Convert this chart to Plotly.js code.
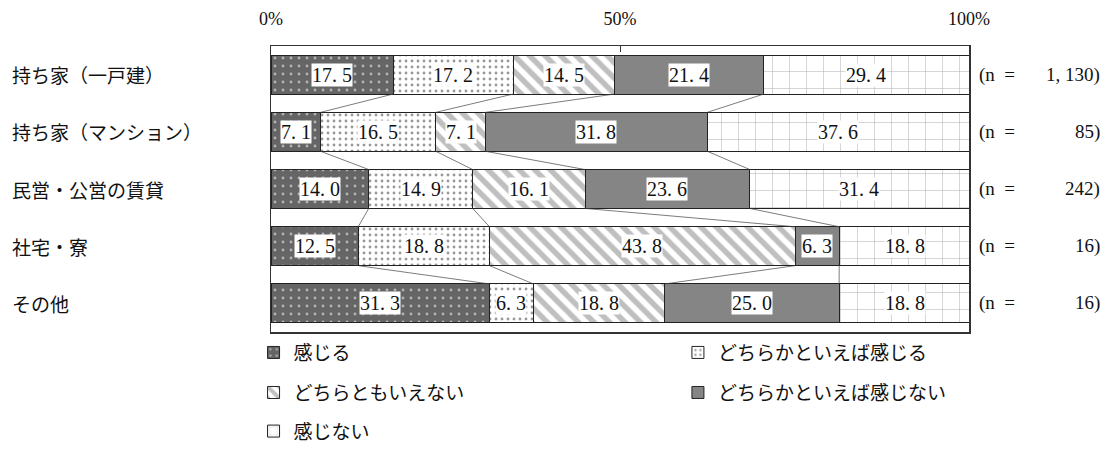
<!DOCTYPE html>
<html>
<head>
<meta charset="utf-8">
<script src="https://cdn.plot.ly/plotly-3.0.1.min.js"></script>
<style>
  body { margin: 0; background: #fff; }
  #plot { width: 1111px; height: 462px; }
</style>
</head>
<body>
<div id="plot"></div>
<script>
// housing types (rows, top to bottom)
var categories = ['持ち家（一戸建）', '持ち家（マンション）', '民営・公営の賃貸', '社宅・寮', 'その他'];
var nCounts = ['1, 130', '85', '242', '16', '16'];

// answer series (%)
var seriesNames = ['感じる', 'どちらかといえば感じる', 'どちらともいえない', 'どちらかといえば感じない', '感じない'];
var kanjiru      = [17.5, 7.1, 14.0, 12.5, 31.3];
var dochiraKan   = [17.2, 16.5, 14.9, 18.8, 6.3];
var dochiraMo    = [14.5, 7.1, 16.1, 43.8, 18.8];
var dochiraNai   = [21.4, 31.8, 23.6, 6.3, 25.0];
var kanjinai     = [29.4, 37.6, 31.4, 18.8, 18.8];

var tickVals = [0, 50, 100];
var tickText = ['0%', '50%', '100%'];

var seriesValues = [kanjiru, dochiraKan, dochiraMo, dochiraNai, kanjinai];

var patterns = [
  {shape: '.', bgcolor: '#656565', fgcolor: '#ffffff', size: 8, solidity: 0.1, fillmode: 'overlay'},
  {shape: '.', bgcolor: '#ffffff', fgcolor: '#333333', size: 6, solidity: 0.18, fillmode: 'overlay'},
  {shape: '\\', bgcolor: '#ffffff', fgcolor: '#7f7f7f', size: 11, solidity: 0.5, fillmode: 'overlay'},
  {shape: '', bgcolor: '#858585', fgcolor: '#858585', fillmode: 'overlay'},
  {shape: '+', bgcolor: '#ffffff', fgcolor: '#5f5f5f', size: 17, solidity: 0.06, fillmode: 'overlay'}
];
var baseColors = ['#656565', '#ffffff', '#ffffff', '#858585', '#ffffff'];
var legendIds = ['legend', 'legend2', 'legend3', 'legend4', 'legend5'];

var rowIdx = categories.map(function (c, i) { return i; });
var barW = 0.68;
var serif = 'Liberation Serif, DejaVu Serif, serif';
var jp = 'Noto Sans CJK JP, sans-serif';

var traces = [];
seriesValues.forEach(function (vals, s) {
  traces.push({
    type: 'bar',
    orientation: 'h',
    name: seriesNames[s],
    x: vals,
    y: rowIdx,
    width: barW,
    legend: legendIds[s],
    marker: {
      color: baseColors[s],
      pattern: patterns[s],
      line: {color: '#222', width: 1}
    },
    hoverinfo: 'skip'
  });
});

// cumulative boundaries for connector lines and label positions
var cum = rowIdx.map(function (r) {
  var acc = [0];
  seriesValues.forEach(function (vals) { acc.push(acc[acc.length - 1] + vals[r]); });
  return acc;
});

for (var b = 1; b < seriesValues.length; b++) {
  var lx = [], ly = [];
  for (var r = 0; r < categories.length - 1; r++) {
    lx.push(cum[r][b], cum[r + 1][b], null);
    ly.push(r + barW / 2, r + 1 - barW / 2, null);
  }
  traces.push({
    type: 'scatter', mode: 'lines', x: lx, y: ly,
    line: {color: '#444', width: 0.7},
    showlegend: false, hoverinfo: 'skip', cliponaxis: false
  });
}

var annotations = [];
// value labels
seriesValues.forEach(function (vals, s) {
  vals.forEach(function (v, r) {
    annotations.push({
      x: cum[r][s] + v / 2, y: r, xref: 'x', yref: 'y',
      text: v.toFixed(1).replace('.', '. '),
      showarrow: false,
      font: {family: serif, size: 20, color: '#111'},
      bgcolor: '#ffffff', borderpad: 0
    });
  });
});
// category labels and n
categories.forEach(function (c, r) {
  annotations.push({
    x: -0.374, y: r, xref: 'paper', yref: 'y', xanchor: 'left',
    text: c, showarrow: false,
    font: {family: jp, size: 19, color: '#111'}
  });
  annotations.push({
    x: 1.0115, y: r, xref: 'paper', yref: 'y', xanchor: 'left',
    text: '(n&nbsp;&nbsp;=', showarrow: false,
    font: {family: serif, size: 19, color: '#111'}
  });
  annotations.push({
    x: 1.19, y: r, xref: 'paper', yref: 'y', xanchor: 'right',
    text: nCounts[r] + ')', showarrow: false,
    font: {family: serif, size: 19, color: '#111'}
  });
});

function legendAt(x, y) {
  return {
    orientation: 'h', x: x, y: y, xanchor: 'left', yanchor: 'middle',
    bgcolor: 'rgba(0,0,0,0)', borderwidth: 0,
    font: {family: jp, size: 19, color: '#111'}
  };
}

var layout = {
  width: 1111, height: 462,
  margin: {l: 271, r: 142, t: 46, b: 121},
  paper_bgcolor: '#fff', plot_bgcolor: '#fff',
  barmode: 'stack',
  bargap: 0,
  showlegend: true,
  xaxis: {
    range: [0, 100], side: 'top',
    tickvals: tickVals, ticktext: tickText,
    ticks: 'inside', ticklen: 6, tickcolor: '#333',
    showgrid: false, zeroline: false,
    showline: true, linecolor: '#333', linewidth: 1.5, mirror: true,
    ticklabelstandoff: 12,
    tickfont: {family: serif, size: 18, color: '#111'},
    fixedrange: true
  },
  yaxis: {
    range: [categories.length - 0.5, -0.5],
    showticklabels: false, ticks: '',
    showgrid: false, zeroline: false,
    showline: true, linecolor: '#333', linewidth: 1.5, mirror: true,
    fixedrange: true
  },
  legend: legendAt(-0.025, -0.072),
  legend2: legendAt(0.583, -0.072),
  legend3: legendAt(-0.025, -0.212),
  legend4: legendAt(0.583, -0.212),
  legend5: legendAt(-0.025, -0.347),
  annotations: annotations
};

Plotly.newPlot('plot', traces, layout, {displayModeBar: false, staticPlot: true});
</script>
</body>
</html>
